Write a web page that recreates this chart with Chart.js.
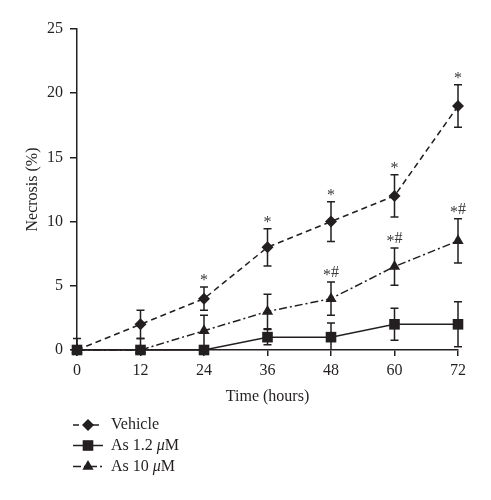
<!DOCTYPE html>
<html>
<head>
<meta charset="utf-8">
<script src="https://cdn.jsdelivr.net/npm/chart.js@4.4.0/dist/chart.umd.min.js"></script>
<style>
html,body{margin:0;padding:0;background:#fff;}
#wrap{width:491px;height:500px;}
</style>
</head>
<body>
<div id="wrap"><canvas id="myChart"></canvas></div>
<script>
// values
const hours = [0, 12, 24, 36, 48, 60, 72]
const yTicks = [0, 5, 10, 15, 20, 25]

const vehicle = [0, 2, 4, 8, 10, 12, 19]
const vehicleErr = [0.9, 1.1, 0.9, 1.45, 1.55, 1.65, 1.65]
const vehicleMarks = ['', '', '*', '*', '*', '*', '*']

const as12 = [0, 0, 0, 1, 1, 2, 2]
const as12Err = [0, 0, 0, 0.6, 1.1, 1.25, 1.75]
const as12Marks = ['', '', '', '', '', '', '']

const as10 = [0, 0, 1.5, 3, 4, 6.5, 8.5]
const as10Err = [0, 0.9, 1.2, 1.35, 1.3, 1.45, 1.72]
const as10Marks = ['', '', '', '', '*#', '*#', '*#']

const ink = '#231f20'
const serif = "'Liberation Serif', 'DejaVu Serif', serif"

function pts(ys){
    return hours.map((h, i) => ({x: h, y: ys[i]}))
}

// error bars under the markers, significance marks above them
const errorBars = {
    id: 'errorBars',
    beforeDatasetsDraw(chart){
        const ctx = chart.ctx
        const xs = chart.scales.x, ys = chart.scales.y
        ctx.save()
        ctx.strokeStyle = ink
        ctx.lineWidth = 1.5
        ctx.setLineDash([])
        chart.data.datasets.forEach(ds=>{
            ds.err.forEach((e, i)=>{
                if(!e) return
                const px = xs.getPixelForValue(hours[i])
                const top = ys.getPixelForValue(ds.data[i].y + e)
                const bot = ys.getPixelForValue(Math.max(0, ds.data[i].y - e))
                ctx.beginPath()
                ctx.moveTo(px, top); ctx.lineTo(px, bot)
                ctx.moveTo(px - 4, top); ctx.lineTo(px + 4, top)
                if(ds.data[i].y - e > 0){
                    ctx.moveTo(px - 4, bot); ctx.lineTo(px + 4, bot)
                }
                ctx.stroke()
            })
        })
        ctx.restore()
    },
    afterDatasetsDraw(chart){
        const ctx = chart.ctx
        const xs = chart.scales.x, ys = chart.scales.y
        ctx.save()
        ctx.fillStyle = '#3a3a3a'
        ctx.font = '16px ' + serif
        ctx.textAlign = 'left'
        ctx.textBaseline = 'alphabetic'
        chart.data.datasets.forEach(ds=>{
            ds.marks.forEach((m, i)=>{
                if(!m) return
                const px = xs.getPixelForValue(hours[i])
                const top = ys.getPixelForValue(ds.data[i].y + ds.err[i])
                let x = px - ctx.measureText(m).width / 2
                // the asterisk sits high in this font, so drop it a little
                for(const ch of m){
                    ctx.fillText(ch, x, ch == '*' ? top - 2 : top - 5)
                    x += ctx.measureText(ch).width
                }
            })
        })
        ctx.restore()
    }
}

function marker(ctx, style, x, y, r){
    ctx.beginPath()
    if(style == 'rectRot'){
        ctx.moveTo(x, y - r); ctx.lineTo(x + r, y); ctx.lineTo(x, y + r); ctx.lineTo(x - r, y)
    } else if(style == 'rect'){
        const s = r * Math.SQRT1_2
        ctx.rect(x - s, y - s, 2 * s, 2 * s)
    } else {
        ctx.moveTo(x, y - r)
        ctx.lineTo(x + r * 0.866, y + r * 0.5)
        ctx.lineTo(x - r * 0.866, y + r * 0.5)
    }
    ctx.closePath()
    ctx.fill()
}

// legend below the plot, line sample with the marker in the middle
const bottomLegend = {
    id: 'bottomLegend',
    afterDraw(chart){
        const ctx = chart.ctx
        const rows = [425, 445.5, 466.5]
        ctx.save()
        chart.data.datasets.forEach((ds, i)=>{
            const y = rows[i]
            ctx.strokeStyle = ink
            ctx.lineWidth = 1.5
            ctx.setLineDash(ds.borderDash || [])
            ctx.beginPath()
            ctx.moveTo(73, y); ctx.lineTo(103, y)
            ctx.stroke()
            ctx.setLineDash([])
            ctx.fillStyle = ink
            marker(ctx, ds.pointStyle, 88, y, ds.pointRadius)
            // label, with the mu in italics
            ctx.textBaseline = 'middle'
            ctx.textAlign = 'left'
            let x = 111
            ds.legendParts.forEach(p=>{
                ctx.font = (p.italic ? 'italic ' : '') + '16px ' + serif
                ctx.fillText(p.t, x, y)
                x += ctx.measureText(p.t).width
            })
        })
        ctx.restore()
    }
}

const ctx = document.getElementById('myChart')
const myChart = new Chart(ctx, {
    type: 'line',
    data: {
        datasets: [{
            label: 'Vehicle',
            data: pts(vehicle),
            err: vehicleErr,
            marks: vehicleMarks,
            legendParts: [{t: 'Vehicle'}],
            borderColor: ink,
            backgroundColor: ink,
            borderWidth: 1.5,
            borderDash: [6, 4],
            pointStyle: 'rectRot',
            pointRadius: 6,
            pointBorderWidth: 0,
            clip: false
        }, {
            label: 'As 1.2 μM',
            data: pts(as12),
            err: as12Err,
            marks: as12Marks,
            legendParts: [{t: 'As 1.2 '}, {t: 'μ', italic: true}, {t: 'M'}],
            borderColor: ink,
            backgroundColor: ink,
            borderWidth: 1.5,
            pointStyle: 'rect',
            pointRadius: 7.5,
            pointBorderWidth: 0,
            clip: false
        }, {
            label: 'As 10 μM',
            data: pts(as10),
            err: as10Err,
            marks: as10Marks,
            legendParts: [{t: 'As 10 '}, {t: 'μ', italic: true}, {t: 'M'}],
            borderColor: ink,
            backgroundColor: ink,
            borderWidth: 1.5,
            borderDash: [8, 3, 2, 3],
            pointStyle: 'triangle',
            pointRadius: 6.5,
            pointBorderWidth: 0,
            clip: false
        }]
    },
    options: {
        responsive: true,
        maintainAspectRatio: false,
        animation: false,
        layout: {
            padding: {left: 0, right: 33, top: 29, bottom: 90}
        },
        plugins: {
            legend: {display: false},
            tooltip: {enabled: false}
        },
        scales: {
            x: {
                type: 'linear',
                min: 0,
                max: 72,
                afterFit: s => { s.height = 60 },
                afterBuildTicks: s => { s.ticks = hours.map(v => ({value: v})) },
                ticks: {color: ink, font: {family: serif, size: 16}, padding: 5},
                grid: {drawOnChartArea: false, drawTicks: true, tickLength: 6, color: ink, lineWidth: 1.5},
                border: {color: ink, width: 1.5},
                title: {display: true, text: 'Time (hours)', color: ink, font: {family: serif, size: 16}, padding: {top: 0, bottom: 4}}
            },
            y: {
                min: 0,
                max: 25,
                afterFit: s => { s.width = 77 },
                afterBuildTicks: s => { s.ticks = yTicks.map(v => ({value: v})) },
                ticks: {color: ink, font: {family: serif, size: 16}, padding: 7},
                grid: {drawOnChartArea: false, drawTicks: true, tickLength: 7, color: ink, lineWidth: 1.5},
                border: {color: ink, width: 1.5},
                title: {display: true, text: 'Necrosis (%)', color: ink, font: {family: serif, size: 16}, padding: {top: 23, bottom: 0}}
            }
        }
    },
    plugins: [errorBars, bottomLegend]
});
</script>
</body>
</html>
